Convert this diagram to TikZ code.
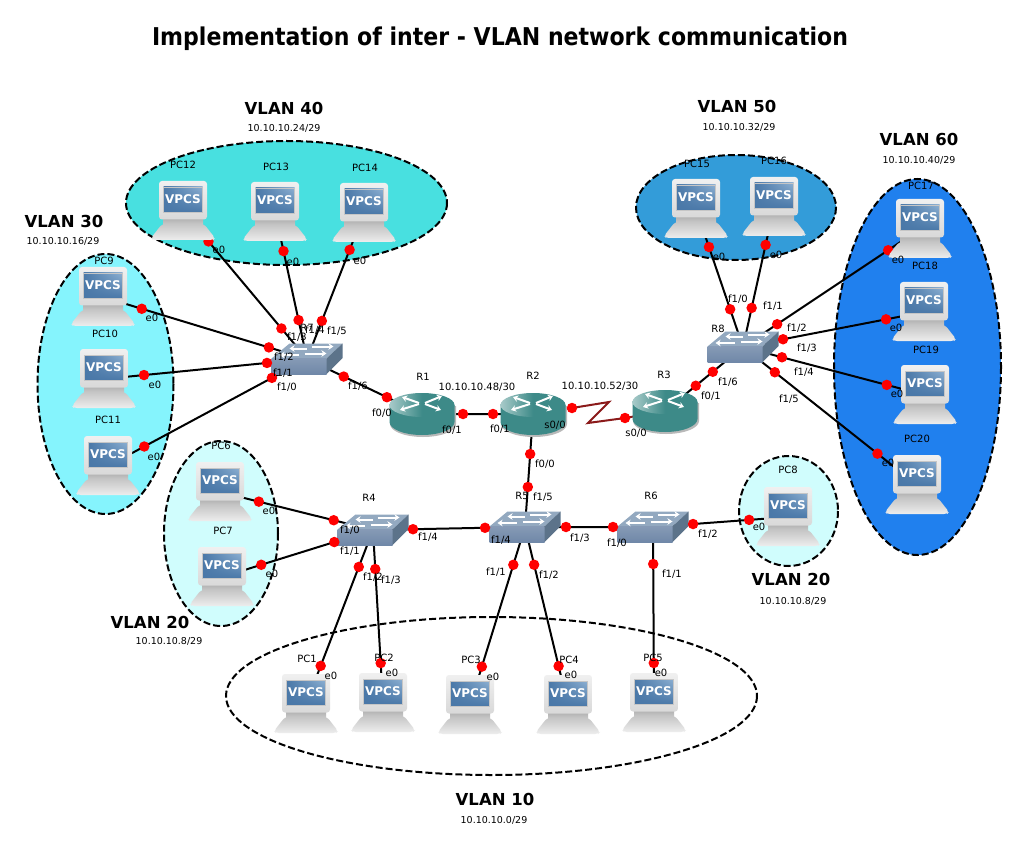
\documentclass[tikz,border=0pt]{standalone}
\usepackage{fontspec}
\setmainfont{DejaVu Sans}
\usetikzlibrary{arrows.meta,calc,shadings}
\definecolor{dotred}{HTML}{FF0000}
\definecolor{serialred}{HTML}{8B1A1A}
\definecolor{vforty}{HTML}{48E0E0}
\definecolor{vfifty}{HTML}{339CD9}
\definecolor{vsixty}{HTML}{2080EE}
\definecolor{vthirty}{HTML}{85F4FD}
\definecolor{vtwenty}{HTML}{D0FDFD}
\definecolor{rtbody}{HTML}{3D8A88}
\definecolor{swtop}{HTML}{93A9C0}
\definecolor{swfront}{HTML}{7088A8}
\definecolor{swside}{HTML}{5C738A}
\definecolor{scrn}{HTML}{4A78A8}
\definecolor{scrnb}{HTML}{8DB0D2}
\tikzset{
  vlanzone/.style={draw=black,line width=2pt,dash pattern=on 7pt off 3pt},
  wire/.style={black,line width=2pt},
  portdot/.style={circle,fill=dotred,inner sep=0pt,minimum size=10.5pt},
  lbl/.style={font=\fontsize{10}{12}\selectfont,inner sep=0pt,text=black},
  vname/.style={font=\fontsize{16.5}{20}\selectfont\bfseries,inner sep=0pt},
  vnet/.style={font=\fontsize{9.5}{12}\selectfont,inner sep=0pt},
  whitearrow/.style={white,line width=2pt,-{Stealth[length=5pt,width=6.5pt]}},
}
% port dots of one link, projected on the line between two named devices
\newcommand\prt[4]{%
  \node[portdot] at ($(#1)!(#3)!(#2)$) {};
  \node[portdot] at ($(#1)!(#4)!(#2)$) {};
}
\newcommand\pcicon[1]{%
  \begin{scope}[shift={(#1)}]
    \shade[top color=gray!60,bottom color=gray!40] (-20,8) rectangle (20,14);
    \shade[top color=gray!45,bottom color=gray!14,rounded corners=3pt]
      (-21,13) -- (21,13) -- (32,27) -- (30,29) -- (-30,29) -- (-32,27) -- cycle;
    \shade[top color=gray!12,bottom color=gray!30,rounded corners=3pt] (-24,-30) rectangle (24,8.5);
    \shade[upper right=scrnb,lower left=scrn,upper left=scrn,lower right=scrn,draw=white!55!gray,line width=.6pt] (-19.5,-24) rectangle (19.5,1);
    \node[inner sep=0pt,text=white,font=\fontsize{12}{12}\selectfont\bfseries] at (0,-11.5) {VPCS};
  \end{scope}}
\newcommand\swicon[1]{%
  \begin{scope}[shift={(#1)},xshift=-35.5pt,yshift=16pt]
    \fill[swtop] (0,15.5) -- (18,.5) -- (71,.5) -- (55,15.5) -- cycle;
    \shade[top color=swfront!85!white,bottom color=swfront] (0,15.5) rectangle (55,31);
    \fill[swside] (55,15.5) -- (71,.5) -- (71,15) -- (55,31) -- cycle;
    \draw[whitearrow] (35,5.5) -- (18,5.5);
    \draw[whitearrow] (40,3.5) -- (62,3.5);
    \draw[whitearrow] (27,12) -- (8,12);
    \draw[whitearrow] (33,10.5) -- (55,10.5);
  \end{scope}}
\newcommand\roicon[1]{%
  \begin{scope}[shift={(#1)}]
    \fill[gray!55] (-32,-8) -- (-32,10) arc[start angle=180,end angle=0,x radius=33,y radius=13] -- (34,-8) -- cycle;
    \fill[rtbody] (-32.5,-9) -- (-32.5,8) arc[start angle=180,end angle=0,x radius=32.5,y radius=13] -- (32.5,-9) -- cycle;
    \shade[left color=white!55!rtbody,right color=rtbody,middle color=rtbody] (0,-9) ellipse[x radius=32.5,y radius=12];
    \draw[whitearrow] (-3,-11) -- (-20,-17);
    \draw[whitearrow] (3,-11) -- (20,-18);
    \draw[whitearrow] (-3,-10) -- (-22,-4);
    \draw[whitearrow] (3,-10) -- (19,-4);
  \end{scope}}
\begin{document}
\begin{tikzpicture}[x=1pt,y=-1pt]
\useasboundingbox (0,0) rectangle (1020,850);
\fill[white] (0,0) rectangle (1020,850);
% zones
\draw[vlanzone,fill=vforty] (286.5,203) ellipse[x radius=160.5,y radius=62];
\draw[vlanzone,fill=vfifty] (736,207.5) ellipse[x radius=100,y radius=52.5];
\draw[vlanzone,fill=vsixty] (917.5,367) ellipse[x radius=83.5,y radius=188];
\draw[vlanzone,fill=vthirty] (105.5,384) ellipse[x radius=68,y radius=130];
\draw[vlanzone,fill=vtwenty] (221,533.5) ellipse[x radius=57,y radius=92.5];
\draw[vlanzone,fill=vtwenty] (788.5,511) ellipse[x radius=49.5,y radius=55];
\draw[vlanzone,fill=white] (491.5,696) ellipse[x radius=265.5,y radius=79];
% device anchors
\coordinate (pc12) at (183,211);
\coordinate (pc13) at (275,212);
\coordinate (pc14) at (364,213);
\coordinate (pc15) at (696,209);
\coordinate (pc16) at (774,207);
\coordinate (pc17) at (920,229);
\coordinate (pc18) at (924,312);
\coordinate (pc19) at (925,395);
\coordinate (pc20) at (917,485);
\coordinate (pc9) at (103,297);
\coordinate (pc10) at (104,379);
\coordinate (pc11) at (108,466);
\coordinate (pc6) at (220,492);
\coordinate (pc7) at (222,577);
\coordinate (pc8) at (788,517);
\coordinate (pc1) at (306,704);
\coordinate (pc2) at (383,703);
\coordinate (pc3) at (470,705);
\coordinate (pc4) at (568,705);
\coordinate (pc5) at (654,703);
\coordinate (r7) at (307,359);
\coordinate (r8) at (743,347);
\coordinate (r4) at (373,530);
\coordinate (r5) at (525,527);
\coordinate (r6) at (653,527);
\coordinate (r1) at (422,414);
\coordinate (r2) at (533,414);
\coordinate (r3) at (665,411);
% serial link
\coordinate (sera) at (572,408);
\coordinate (serb) at (609,402);
\coordinate (serc) at (588,423);
\coordinate (serd) at (625,418);
\draw[serialred,line width=2pt] (r2) -- (sera) -- (serb) -- (serc) -- (serd) -- (r3);
% wires, then routers and switches, then dots, then PCs
\draw[wire] (pc12)--(r7) (pc13)--(r7) (pc14)--(r7) (pc9)--(r7) (pc10)--(r7) (pc11)--(r7) (r7)--(r1) (r1)--(r2) (r2)--(r5) (r3)--(r8)
 (pc15)--(r8) (pc16)--(r8) (pc17)--(r8) (pc18)--(r8) (pc19)--(r8) (pc20)--(r8)
 (pc6)--(r4) (pc7)--(r4) (r4)--(r5) (r5)--(r6) (r6)--(pc8) (pc1)--(r4) (pc2)--(r4) (pc3)--(r5) (pc4)--(r5) (pc5)--(r6);
\swicon{r7}\swicon{r8}\swicon{r4}\swicon{r5}\swicon{r6}
\roicon{r1}\roicon{r2}\roicon{r3}
\prt{pc12}{r7}{209,241}{282,328}
\prt{pc13}{r7}{284,251}{299,320}
\prt{pc14}{r7}{350,250}{322,321}
\prt{pc9}{r7}{142,308}{269,347}
\prt{pc10}{r7}{144,375}{267,363}
\prt{pc11}{r7}{144,446}{272,378}
\prt{r7}{r1}{344,376}{387,397}
\prt{r1}{r2}{463,414}{493,414}
\prt{r2}{r5}{530,454}{528,487}
\prt{r3}{r8}{696,386}{713,372}
\prt{pc15}{r8}{709,247}{731,309}
\prt{pc16}{r8}{766,245}{752,308}
\prt{pc17}{r8}{888,250}{777,324}
\prt{pc18}{r8}{886,319}{783,339}
\prt{pc19}{r8}{887,384}{782,357}
\prt{pc20}{r8}{878,453}{775,372}
\prt{pc6}{r4}{259,501}{334,519}
\prt{pc7}{r4}{261,564}{334,541}
\prt{r4}{r5}{413,529}{485,526}
\prt{r5}{r6}{566,527}{613,527}
\prt{r6}{pc8}{693,523}{749,518}
\prt{pc1}{r4}{321,666}{359,567}
\prt{pc2}{r4}{382,663}{376,569}
\prt{pc3}{r5}{483,667}{514,565}
\prt{pc4}{r5}{559,666}{533,565}
\prt{pc5}{r6}{654,663}{653,564}
\node[portdot] at (sera) {};
\node[portdot] at (serd) {};
\foreach \p in {pc1,pc2,pc3,pc4,pc5,pc6,pc7,pc8,pc9,pc10,pc11,pc12,pc13,pc14,pc15,pc16,pc17,pc18,pc19,pc20}{\pcicon{\p}}
% title and zone labels
\node[inner sep=0pt,font=\fontsize{24.5}{28}\selectfont\bfseries] (title) at (500,39) {\scalebox{0.9}[1]{Implementation of inter - VLAN network communication}};
\foreach \x/\y/\t in {284/108/VLAN 40,737/106/VLAN 50,919/139/VLAN 60,64/221/VLAN 30,150/622/VLAN 20,791/579/VLAN 20,495/799/VLAN 10}
  \node[vname] at (\x,\y) {\t};
\foreach \x/\y/\t in {284/128/10.10.10.24\slash 29,739/127/10.10.10.32\slash 29,919/160/10.10.10.40\slash 29,63/241/10.10.10.16\slash 29,169/641/10.10.10.8\slash 29,793/601/10.10.10.8\slash 29,494/820/10.10.10.0\slash 29}
  \node[vnet] at (\x,\y) {\t};
\foreach \x/\y/\t in {
 183/165/PC12,276/167/PC13,365/168/PC14,697/164/PC15,774/161/PC16,921/186/PC17,925/266/PC18,926/350/PC19,917/439/PC20,
 104/261/PC9,105/334/PC10,108/420/PC11,221/446/PC6,223/531/PC7,788/470/PC8,307/659/PC1,384/658/PC2,471/660/PC3,569/660/PC4,653/658/PC5,
 307/328/R7,718/329/R8,423/377/R1,533/376/R2,664/375/R3,369/498/R4,522/496/R5,651/496/R6,
 297/337/f1\slash 3,315/330/f1\slash 4,337/331/f1\slash 5,284/357/f1\slash 2,283/373/f1\slash 1,287/387/f1\slash 0,358/386/f1\slash 6,
 382/413/f0\slash 0,452/430/f0\slash 1,477/387/10.10.10.48\slash 30,500/429/f0\slash 1,555/425/s0\slash 0,600/386/10.10.10.52\slash 30,636/433/s0\slash 0,711/396/f0\slash 1,
 545/464/f0\slash 0,543/497/f1\slash 5,501/540/f1\slash 4,580/538/f1\slash 3,617/543/f1\slash 0,708/534/f1\slash 2,672/574/f1\slash 1,496/572/f1\slash 1,549/575/f1\slash 2,
 350/530/f1\slash 0,350/551/f1\slash 1,373/577/f1\slash 2,391/580/f1\slash 3,428/537/f1\slash 4,
 738/299/f1\slash 0,773/306/f1\slash 1,797/328/f1\slash 2,807/348/f1\slash 3,804/372/f1\slash 4,789/399/f1\slash 5,728/382/f1\slash 6,
 219/250/e0,293/262/e0,360/261/e0,152/318/e0,155/385/e0,154/457/e0,269/511/e0,272/574/e0,759/527/e0,
 331/676/e0,392/673/e0,493/677/e0,571/675/e0,661/673/e0,719/257/e0,776/255/e0,898/260/e0,896/328/e0,897/394/e0,888/463/e0}
  \node[lbl] at (\x,\y) {\t};
\end{tikzpicture}
\end{document}
